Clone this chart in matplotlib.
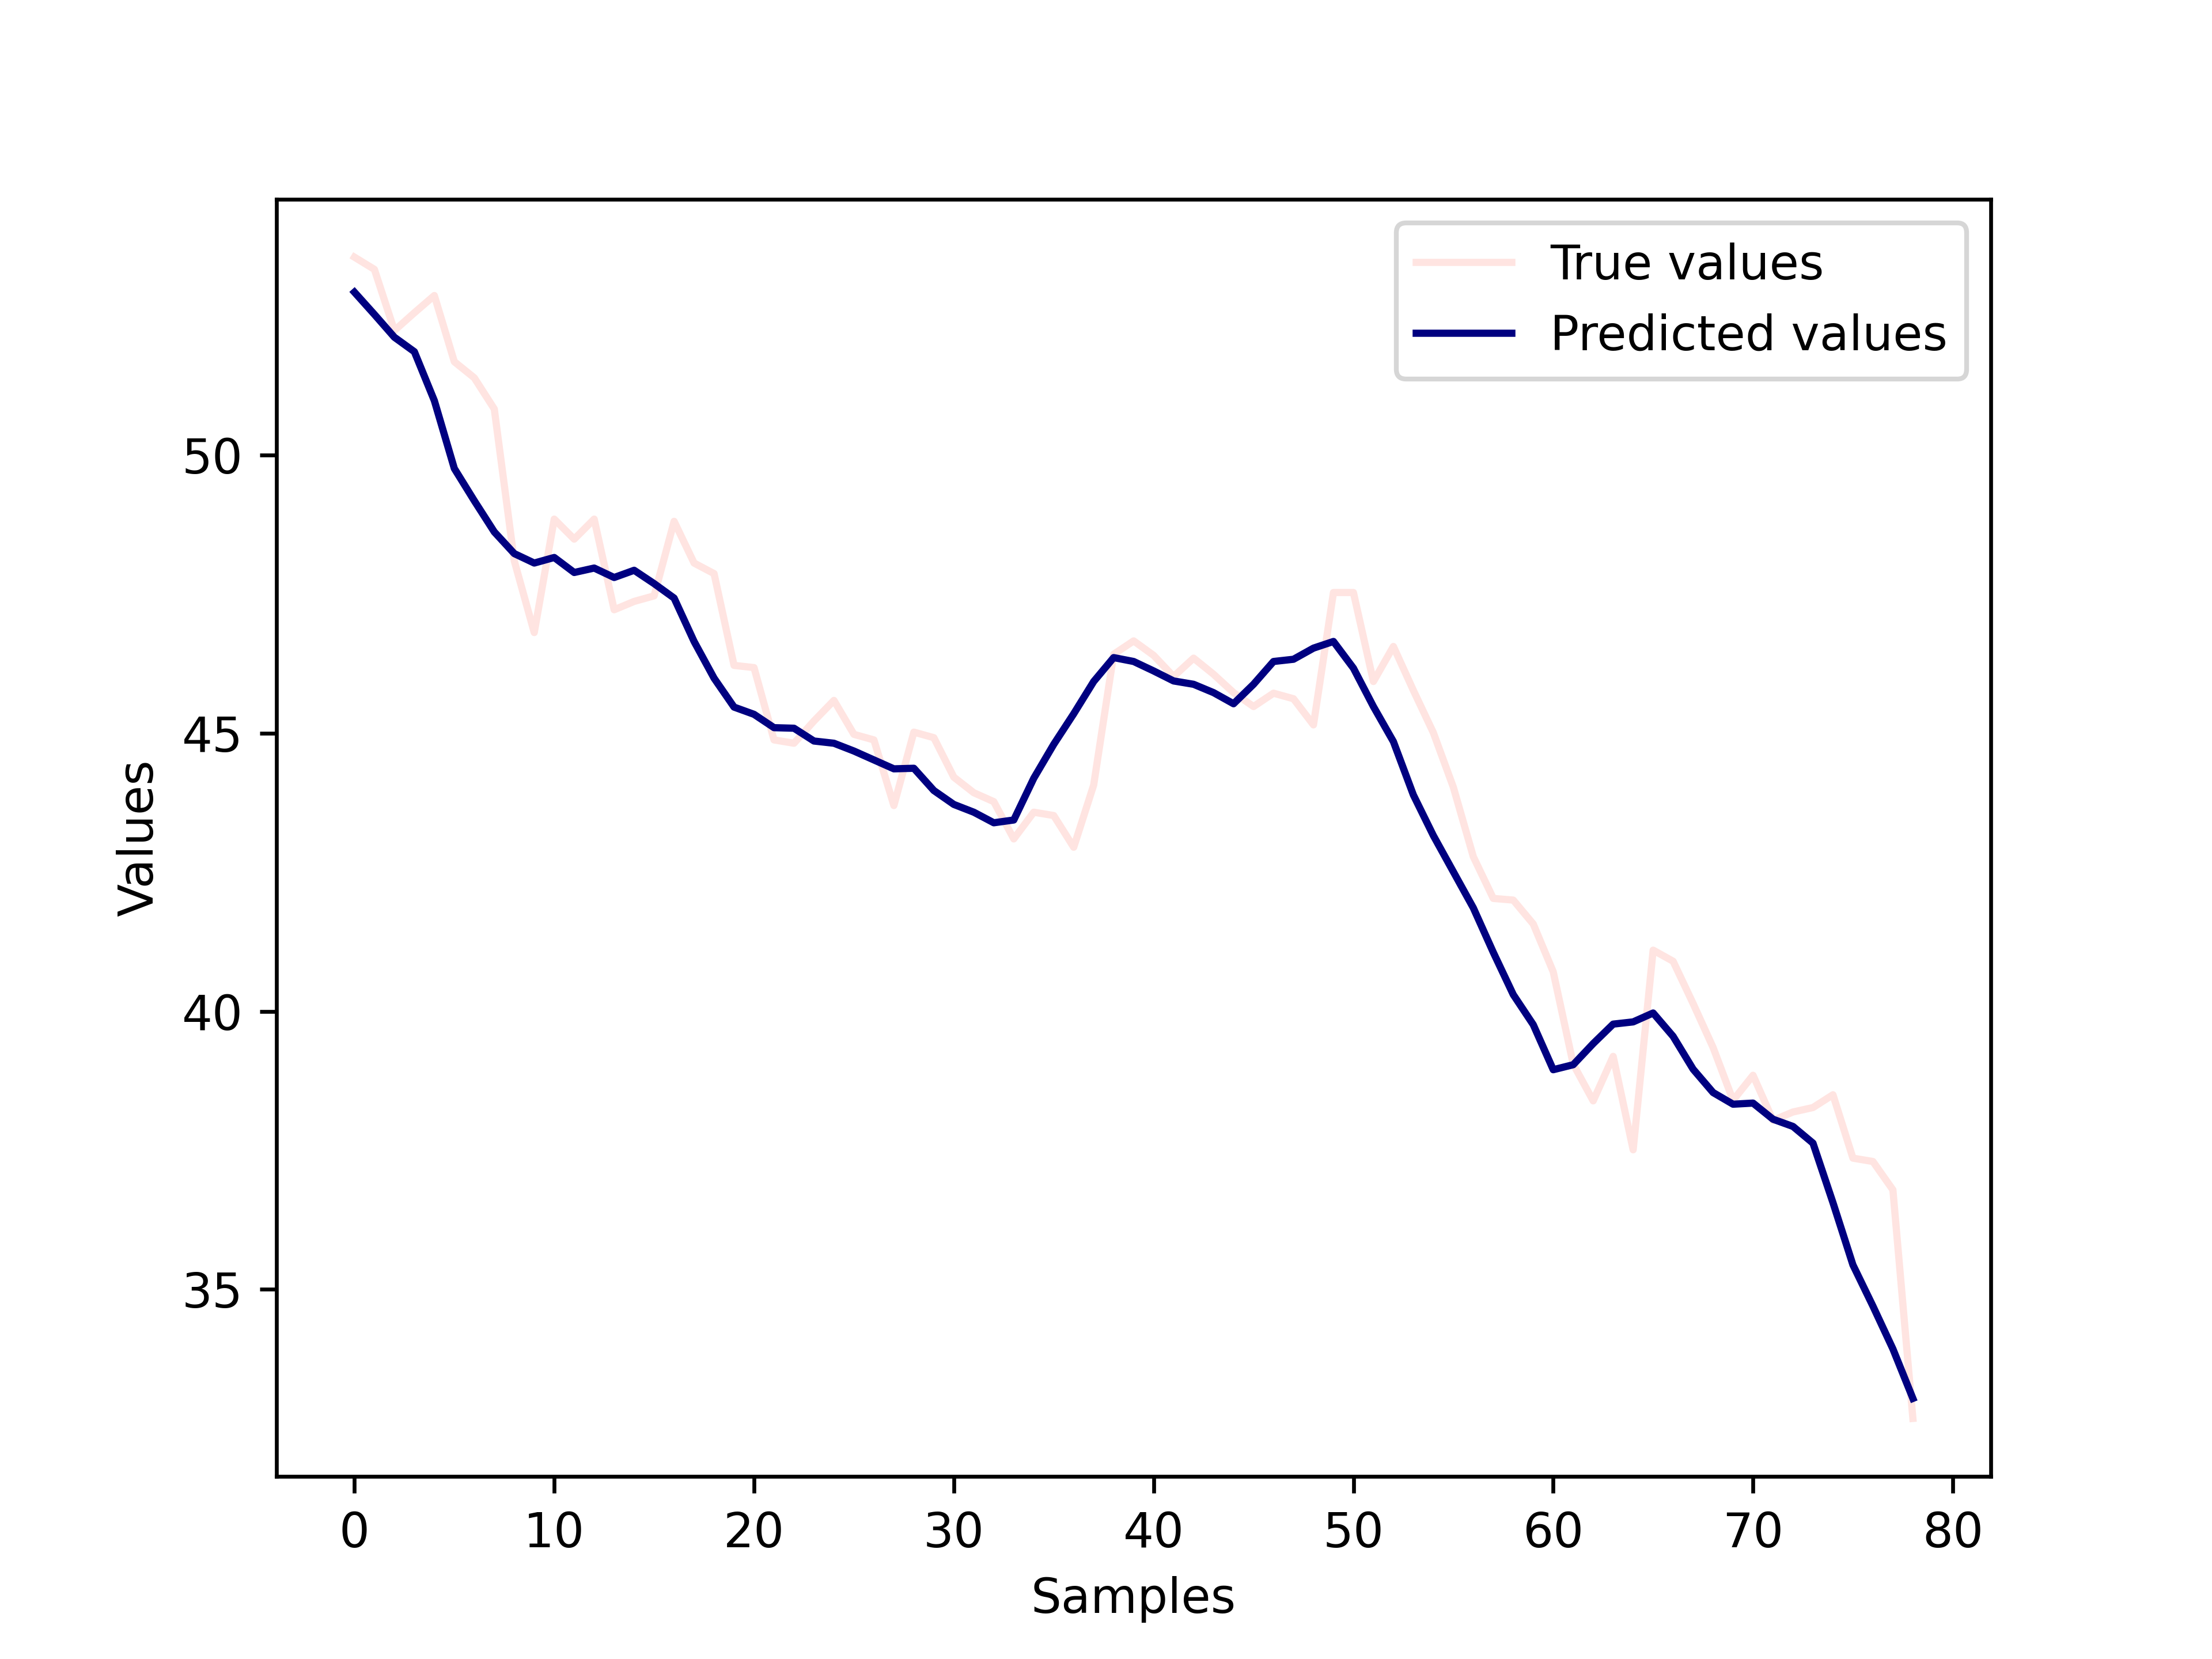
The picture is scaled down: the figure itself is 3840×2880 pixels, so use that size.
import matplotlib
matplotlib.use('Agg')
import matplotlib.pyplot as plt
import numpy as np

# true series
true_values = [
    53.56, 53.34, 52.24, 52.56, 52.87, 51.68, 51.39, 50.83, 48.10, 46.81,
    48.85, 48.49, 48.85, 47.22, 47.37, 47.47, 48.81, 48.06, 47.87, 46.22,
    46.18, 44.88, 44.82, 45.22, 45.59, 44.98, 44.88, 43.70, 45.02, 44.92,
    44.21, 43.93, 43.77, 43.10, 43.58, 43.52, 42.95, 44.07, 46.42, 46.66,
    46.40, 46.02, 46.35, 46.06, 45.73, 45.48, 45.72, 45.62, 45.15, 47.53,
    47.53, 45.93, 46.56, 45.77, 45.01, 44.03, 42.78, 42.03, 42.00, 41.57,
    40.71, 39.05, 38.39, 39.19, 37.51, 41.10, 40.90, 40.14, 39.35, 38.40,
    38.85, 38.04, 38.19, 38.27, 38.50, 37.36, 37.30, 36.79, 32.68,
]

# model output
predicted_values = [
    52.93, 52.53, 52.12, 51.86, 50.98, 49.76, 49.18, 48.62, 48.23, 48.06,
    48.16, 47.89, 47.97, 47.80, 47.93, 47.69, 47.43, 46.65, 45.99, 45.47,
    45.34, 45.10, 45.09, 44.86, 44.82, 44.68, 44.52, 44.36, 44.37, 43.97,
    43.72, 43.58, 43.39, 43.44, 44.19, 44.80, 45.35, 45.93, 46.36, 46.29,
    46.12, 45.94, 45.88, 45.73, 45.53, 45.88, 46.29, 46.33, 46.53, 46.65,
    46.17, 45.48, 44.85, 43.89, 43.16, 42.51, 41.86, 41.06, 40.30, 39.76,
    38.95, 39.04, 39.42, 39.77, 39.81, 39.97, 39.55, 38.96, 38.54, 38.33,
    38.35, 38.06, 37.93, 37.63, 36.56, 35.44, 34.70, 33.93, 33.04,
]


def createGraph(outputFile):
    plt.figure(figsize=(6.4, 4.8))
    plt.plot(true_values, color='mistyrose', label='True values')
    plt.plot(predicted_values, color='navy', label='Predicted values')
    plt.xlabel('Samples')
    plt.ylabel('Values')
    plt.legend()
    plt.savefig(outputFile, dpi=600)
    plt.clf()


if __name__ == '__main__':
    createGraph('out.png')
